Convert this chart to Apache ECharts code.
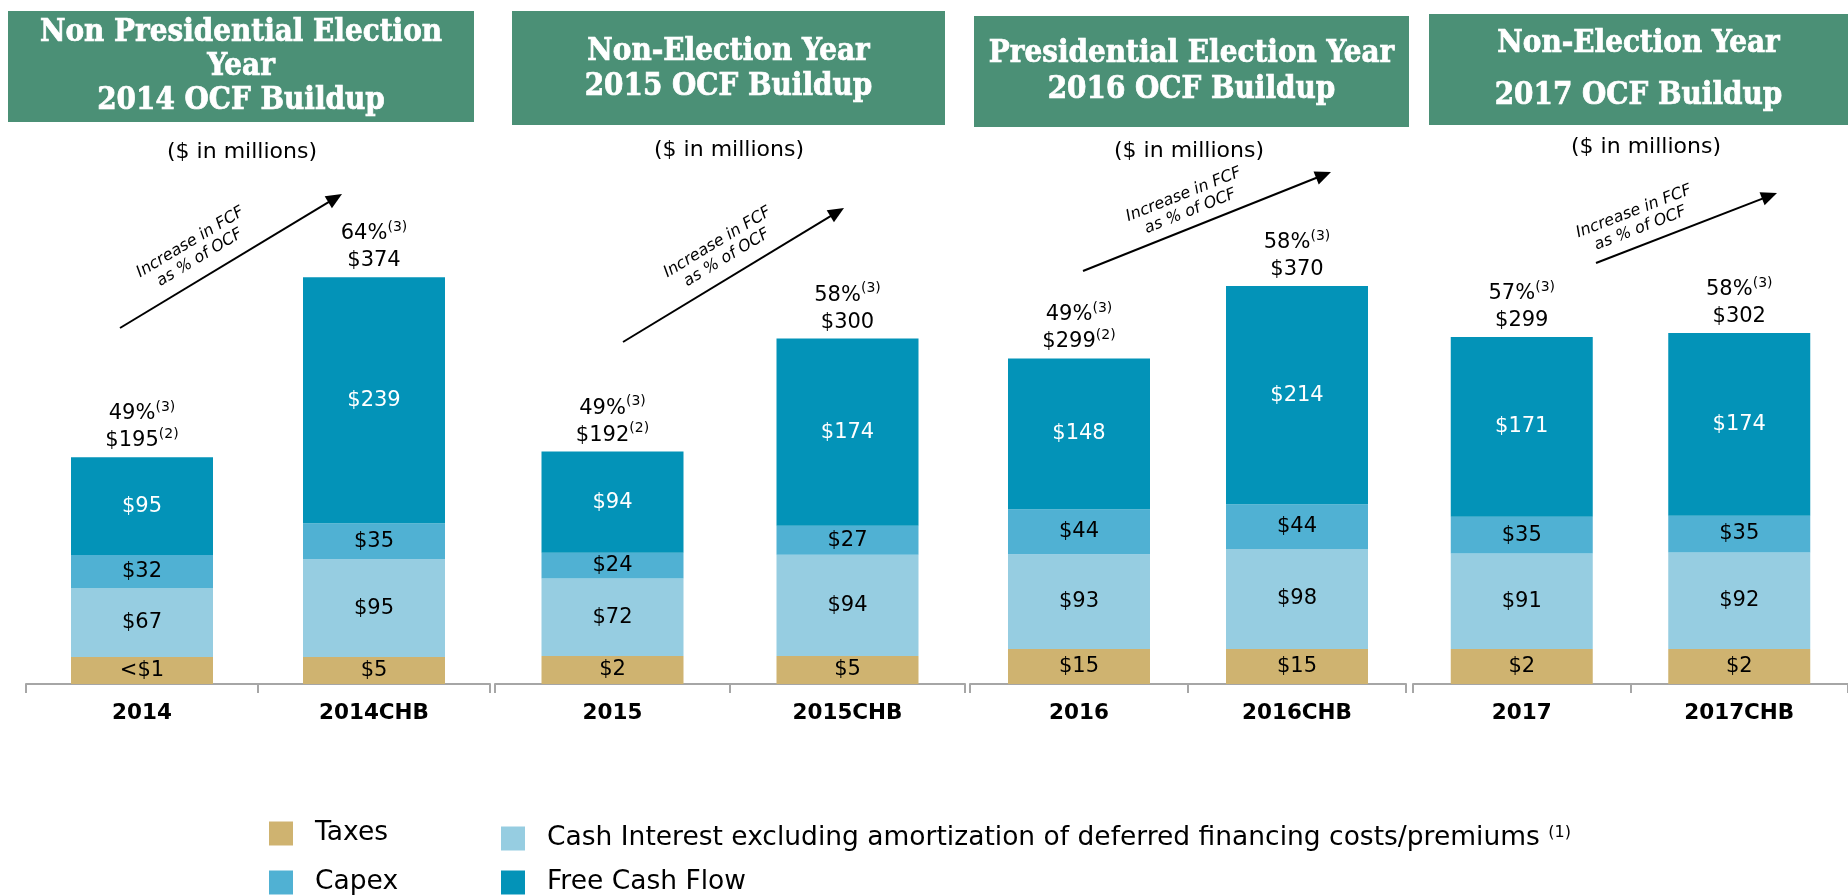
<!DOCTYPE html>
<html>
<head>
<meta charset="utf-8">
<title>OCF Buildup</title>
<script src="https://cdn.jsdelivr.net/npm/echarts@6/dist/echarts.min.js"></script>
<style>
    html, body { margin: 0; padding: 0; background: #ffffff; }
    #chart { width: 1848px; height: 896px; }
</style>
</head>
<body>
<div id="chart"></div>
<script>
// ============================================
// 數據
// ============================================
const categories = ['2014', '2014CHB', '2015', '2015CHB', '2016', '2016CHB', '2017', '2017CHB'];
const taxes = [0.5, 5, 2, 5, 15, 15, 2, 2];
const cashInterest = [67, 95, 72, 94, 93, 98, 91, 92];
const capex = [32, 35, 24, 27, 44, 44, 35, 35];
const freeCashFlow = [95, 239, 94, 174, 148, 214, 171, 174];
const ocfTotals = [195, 374, 192, 300, 299, 370, 299, 302];
const fcfPct = ['49%', '64%', '49%', '58%', '49%', '58%', '57%', '58%'];
const pctNotes = ['(3)', '(3)', '(3)', '(3)', '(3)', '(3)', '(3)', '(3)'];
const totalNotes = ['(2)', '', '(2)', '', '(2)', '', '', ''];

const panelTitles = [
    ['Non Presidential Election', 'Year', '2014 OCF Buildup'],
    ['Non-Election Year', '2015 OCF Buildup'],
    ['Presidential Election Year', '2016 OCF Buildup'],
    ['Non-Election Year', '2017 OCF Buildup']
];
const unitNote = '($ in millions)';
const arrowText = 'Increase in FCF\nas % of OCF';

const seriesNames = ['Taxes', 'Cash Interest excluding amortization of deferred financing costs/premiums', 'Capex', 'Free Cash Flow'];
const seriesColors = ['#CFB370', '#96CDE1', '#50B1D3', '#0393B8'];

// 版面設定（每個小圖）
const panels = [
    { left: 26, width: 464, yMax: 509, taxMin: 27,
      box: [8, 11, 466, 111], lines: [33, 67, 101], note: [242, 152],
      arrow: [120, 328, 342, 194], label: [195, 250] },
    { left: 495, width: 470, yMax: 487, taxMin: 28,
      box: [512, 11, 433, 114], lines: [52, 87], note: [729, 150],
      arrow: [623, 342, 844, 208], label: [722, 250] },
    { left: 970, width: 436, yMax: 514, taxMin: 35,
      box: [974, 16, 435, 111], lines: [54, 90], note: [1189, 151],
      arrow: [1083, 271, 1331, 172], label: [1187, 203] },
    { left: 1413, width: 435, yMax: 499, taxMin: 35,
      box: [1429, 14, 419, 111], lines: [44, 96], note: [1646, 147],
      arrow: [1596, 263, 1777, 193], label: [1637, 220] }
];

const SANS = "'DejaVu Sans', Verdana, sans-serif";
const SERIF = "'DejaVu Serif Condensed', 'DejaVu Serif', serif";
const BAR_W = 142;

const chart = echarts.init(document.getElementById('chart'));

const grids = [], xAxes = [], yAxes = [], series = [], graphics = [];

// 各段高度（稅項有最小高度，其餘按比例往上疊）
function segmentHeights(api, taxMin) {
    const hs = [];
    for (let m = 0; m < 4; m++) {
        let s = Math.abs(api.size([0, api.value(m + 1)])[1]);
        if (m === 0) s = Math.max(s, taxMin);
        hs.push(s);
    }
    return hs;
}

function money(v) {
    return v < 1 ? '<$1' : '$' + v;
}

panels.forEach((p, i) => {
    const from = i * 2;
    const rows = [0, 1].map(j => [j, taxes[from + j], cashInterest[from + j], capex[from + j], freeCashFlow[from + j]]);

    grids.push({ left: p.left, width: p.width, top: 160, bottom: 212 });

    xAxes.push({
        gridIndex: i,
        type: 'category',
        data: categories.slice(from, from + 2),
        axisLine: { lineStyle: { color: '#A6A6A6', width: 2 } },
        axisTick: { show: true, length: 9, lineStyle: { color: '#A6A6A6', width: 2 } },
        axisLabel: { fontSize: 21.5, fontWeight: 'bold', color: '#000', margin: 18, fontFamily: SANS }
    });

    yAxes.push({ gridIndex: i, type: 'value', min: 0, max: p.yMax, show: false });

    // 堆疊柱
    seriesNames.forEach((name, k) => {
        series.push({
            type: 'custom',
            name: name,
            xAxisIndex: i,
            yAxisIndex: i,
            data: rows,
            encode: { x: 0, y: k + 1 },
            itemStyle: { color: seriesColors[k] },
            silent: true,
            renderItem: (params, api) => {
                const base = api.coord([api.value(0), 0]);
                const hs = segmentHeights(api, p.taxMin);
                let bottom = base[1];
                for (let m = 0; m < k; m++) bottom -= hs[m];
                return {
                    type: 'rect',
                    shape: { x: base[0] - BAR_W / 2, y: bottom - hs[k], width: BAR_W, height: hs[k] },
                    style: { fill: seriesColors[k] },
                    textContent: {
                        style: {
                            text: money(api.value(k + 1)),
                            fill: k === 3 ? '#ffffff' : '#000000',
                            fontSize: 21,
                            fontFamily: SANS
                        }
                    },
                    textConfig: { position: 'inside' }
                };
            }
        });
    });

    // 總額標籤
    series.push({
        type: 'custom',
        name: 'OCF',
        xAxisIndex: i,
        yAxisIndex: i,
        data: rows,
        encode: { x: 0, y: 4 },
        silent: true,
        z: 5,
        renderItem: (params, api) => {
            const idx = from + params.dataIndex;
            const base = api.coord([api.value(0), 0]);
            const hs = segmentHeights(api, p.taxMin);
            const top = base[1] - hs.reduce((a, b) => a + b, 0);
            let txt = '{v|' + fcfPct[idx] + '}{s|' + pctNotes[idx] + '}\n{v|$' + ocfTotals[idx] + '}';
            if (totalNotes[idx]) txt += '{s|' + totalNotes[idx] + '}';
            return {
                type: 'text',
                x: base[0],
                y: top - 3,
                style: {
                    text: txt,
                    textAlign: 'center', align: 'center',
                    textVerticalAlign: 'bottom', verticalAlign: 'bottom',
                    rich: {
                        v: { fontSize: 21, fontFamily: SANS, fill: '#000', lineHeight: 27 },
                        s: { fontSize: 14, fontFamily: SANS, fill: '#000', lineHeight: 20, verticalAlign: 'top' }
                    }
                }
            };
        }
    });

    // 標題框
    graphics.push({
        type: 'rect',
        shape: { x: p.box[0], y: p.box[1], width: p.box[2], height: p.box[3] },
        style: { fill: '#4B9076' },
        silent: true
    });
    panelTitles[i].forEach((line, j) => {
        graphics.push({
            type: 'text',
            x: p.box[0] + p.box[2] / 2,
            y: p.lines[j],
            silent: true,
            style: {
                text: line,
                fill: '#ffffff',
                stroke: '#ffffff',
                lineWidth: 0.7,
                fontSize: 31,
                fontWeight: 'bold',
                fontFamily: SERIF,
                textAlign: 'center', align: 'center',
                textVerticalAlign: 'middle', verticalAlign: 'middle'
            }
        });
    });

    // ($ in millions)
    graphics.push({
        type: 'text',
        x: p.note[0],
        y: p.note[1],
        silent: true,
        style: {
            text: unitNote, fill: '#000', fontSize: 22, fontFamily: SANS,
            textAlign: 'center', align: 'center',
            textVerticalAlign: 'middle', verticalAlign: 'middle'
        }
    });

    // 箭頭
    const [x1, y1, x2, y2] = p.arrow;
    const ang = Math.atan2(y2 - y1, x2 - x1);
    const ux = Math.cos(ang), uy = Math.sin(ang);
    const hl = 16, hw = 7;
    graphics.push({
        type: 'line',
        silent: true,
        shape: { x1: x1, y1: y1, x2: x2 - ux * hl * 0.8, y2: y2 - uy * hl * 0.8 },
        style: { stroke: '#000', lineWidth: 2 }
    });
    graphics.push({
        type: 'polygon',
        silent: true,
        shape: { points: [
            [x2, y2],
            [x2 - ux * hl - uy * hw, y2 - uy * hl + ux * hw],
            [x2 - ux * hl + uy * hw, y2 - uy * hl - ux * hw]
        ] },
        style: { fill: '#000' }
    });
    graphics.push({
        type: 'text',
        x: p.label[0],
        y: p.label[1],
        rotation: -ang,
        silent: true,
        style: {
            text: arrowText, fill: '#000', fontSize: 16, fontStyle: 'italic', fontFamily: SANS,
            lineHeight: 18,
            textAlign: 'center', align: 'center',
            textVerticalAlign: 'middle', verticalAlign: 'middle'
        }
    });
});

const legendText = {
    fontSize: 26.5,
    fontFamily: SANS,
    color: '#000',
    padding: [0, 0, 0, 17],
    rich: { s: { fontSize: 16, fontFamily: SANS, color: '#000', verticalAlign: 'top', lineHeight: 14 } }
};

function legendItem(name, left, top) {
    return {
        data: [name], left: left, top: top, padding: 0,
        itemWidth: 24, itemHeight: 24, icon: 'rect',
        textStyle: legendText,
        formatter: (n) => (n === seriesNames[1] ? n + ' {s|(1)}' : n)
    };
}

chart.setOption({
    animation: false,
    grid: grids,
    xAxis: xAxes,
    yAxis: yAxes,
    series: series,
    graphic: { elements: graphics },
    legend: [
        legendItem(seriesNames[0], 269, 820),
        legendItem(seriesNames[2], 269, 869),
        legendItem(seriesNames[1], 501, 825),
        legendItem(seriesNames[3], 501, 869)
    ]
});
</script>
</body>
</html>
